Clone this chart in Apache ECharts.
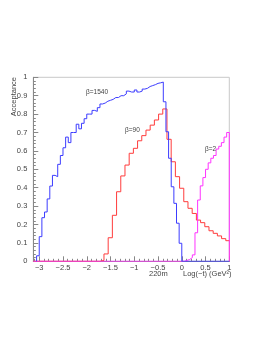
<!DOCTYPE html>
<html><head><meta charset="utf-8">
<script src="https://cdn.jsdelivr.net/npm/echarts@6/dist/echarts.min.js"></script>
<style>html,body{margin:0;padding:0;background:#fff}#c{width:270px;height:349px}</style>
</head><body><div id="c"></div>
<script>
// ---- data ----
const xMin = -3.125, xMax = 1;
const xMajorTicks = [-3, -2.5, -2, -1.5, -1, -0.5, 0, 0.5, 1];
const blueStart = -55/18, blueWidth = 1/18;
const blueValues = [0.03,0.134,0.237,0.268,0.339,0.409,0.467,0.46,0.527,0.575,
  0.617,0.675,0.645,0.70,0.70,0.745,0.72,0.75,0.775,0.80,
  0.80,0.82,0.815,0.835,0.855,0.86,0.87,0.875,0.88,0.89,
  0.89,0.90,0.90,0.91,0.925,0.92,0.92,0.931,0.92,0.925,
  0.936,0.94,0.95,0.955,0.96,0.967,0.97,0.974,0.867,0.704,
  0.56,0.405,0.315,0.207,0.098];
const redStart = -1.726, redWidth = 0.0884;
const redValues = [0.005,0.04,0.128,0.25,0.378,0.464,0.523,0.587,0.614,0.655,
  0.683,0.713,0.74,0.768,0.80,0.828,0.663,0.541,0.46,0.397,
  0.324,0.288,0.26,0.224,0.21,0.188,0.166,0.152,0.138,0.123,0.112];
const magentaStart = 0, magentaWidth = 1/18;
const magentaValues = [0,0.005,0.01,0.02,0.035,0.155,0.333,0.41,0.455,0.50,
  0.535,0.56,0.575,0.61,0.625,0.645,0.675,0.70];
const labels = [
  {text: 'β=1540', x: 86, y: 93},
  {text: 'β=90', x: 125, y: 131},
  {text: 'β=2', x: 205, y: 150}
];

// ---- build histogram step data ----
function hist(start, w, vals, leftExt, rightExt) {
  const d = [];
  if (leftExt !== null) d.push([leftExt, 0]);
  d.push([start, 0]);
  for (let k = 0; k < vals.length; k++) d.push([start + k * w, vals[k]]);
  const end = start + vals.length * w;
  d.push([end, 0]);
  if (rightExt !== null) d.push([rightExt, 0]);
  return d;
}
const minorX = [];
for (let k = -31; k <= 10; k++) minorX.push(k / 10);

const txt = {color: '#444', fontFamily: 'Liberation Sans', fontSize: 7.5};
const chart = echarts.init(document.getElementById('c'), null, {renderer: 'canvas'});
const fmt = v => String(+(+v).toFixed(2)).replace('-', '−');
chart.setOption({
  animation: false,
  backgroundColor: '#fff',
  grid: {left: 33.3, right: 40.7, top: 77.3, bottom: 87.7, show: true, borderColor: '#c8c8c8', borderWidth: 1, backgroundColor: 'transparent'},
  xAxis: [{
    type: 'value', min: xMin, max: xMax,
    axisLine: {show: true, onZero: false, lineStyle: {color: '#888', width: 1}},
    axisTick: {show: true, inside: true, length: 5, customValues: xMajorTicks, lineStyle: {color: '#888'}},
    axisLabel: {show: true, customValues: xMajorTicks, margin: 3, formatter: fmt, ...txt},
    splitLine: {show: false}
  }, {
    type: 'value', min: xMin, max: xMax, position: 'bottom',
    axisLine: {show: false, onZero: false},
    axisTick: {show: true, inside: true, length: 2.5, customValues: minorX, lineStyle: {color: '#888'}},
    axisLabel: {show: false},
    splitLine: {show: false}
  }],
  yAxis: {
    type: 'value', min: 0, max: 1, interval: 0.1, position: 'left',
    axisLine: {show: true, onZero: false, lineStyle: {color: '#888', width: 1}},
    axisTick: {show: true, inside: true, length: 5, lineStyle: {color: '#888'}},
    minorTick: {show: true, splitNumber: 5, length: 2.5, lineStyle: {color: '#888'}},
    axisLabel: {margin: 6, formatter: fmt, ...txt},
    splitLine: {show: false}
  },
  series: [
    {type: 'line', step: 'end', showSymbol: false, z: 2, xAxisIndex: 0,
     data: hist(redStart, redWidth, redValues, xMin, null),
     lineStyle: {color: '#ff3c3c', width: 1}},
    {type: 'line', step: 'end', showSymbol: false, z: 3, xAxisIndex: 0,
     data: hist(magentaStart, magentaWidth, magentaValues, xMin, null),
     lineStyle: {color: '#ff33ff', width: 1}},
    {type: 'line', step: 'end', showSymbol: false, z: 4, xAxisIndex: 0,
     data: hist(blueStart, blueWidth, blueValues, null, xMax),
     lineStyle: {color: '#3c3cff', width: 1}}
  ],
  graphic: [
    ...labels.map(l => ({type: 'text', left: l.x, top: l.y - 4, z: 10,
      style: {text: l.text, fill: '#444', font: '6.5px "Liberation Sans"'}})),
    {type: 'text', left: 149, top: 270, style: {text: '220m', fill: '#444', font: '7.5px "Liberation Sans"'}},
    {type: 'text', left: 183, top: 270, style: {text: 'Log(−t) (GeV²)', fill: '#444', font: '7.5px "Liberation Sans"'}},
    {type: 'text', x: 10, y: 77, rotation: Math.PI / 2,
     style: {text: 'Acceptance', fill: '#444', font: '7.5px "Liberation Sans"', align: 'right', verticalAlign: 'top'}}
  ]
});
</script></body></html>
